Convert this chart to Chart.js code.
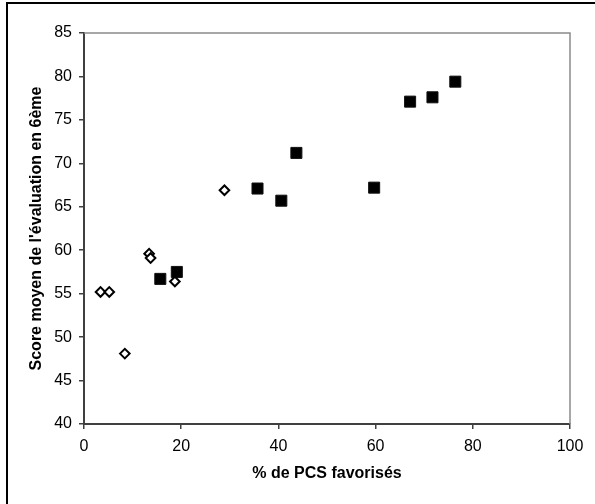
<!DOCTYPE html>
<html>
<head>
<meta charset="utf-8">
<script src="https://cdn.jsdelivr.net/npm/chart.js@4"></script>
<style>
  html, body { margin: 0; padding: 0; background: #fff; }
  #wrap { position: relative; width: 595px; height: 504px; overflow: hidden; }
  #frame {
    position: absolute; left: 6px; top: 2px; width: 700px; height: 600px;
    border-left: 2px solid #000; border-top: 2px solid #000;
  }
  canvas { position: absolute; left: 0; top: 0; }
</style>
</head>
<body>
<div id="wrap">
  <div id="frame"></div>
  <canvas id="chart" width="595" height="504"></canvas>
</div>
<script>
// open diamonds
const diamondX = [3.4, 5.2, 8.4, 13.4, 13.7, 18.7, 28.9];
const diamondY = [55.2, 55.2, 48.1, 59.6, 59.1, 56.4, 66.9];
// filled squares
const squareX = [15.7, 19.1, 35.7, 40.6, 43.7, 59.7, 67.1, 71.7, 76.4];
const squareY = [56.7, 57.5, 67.1, 65.7, 71.2, 67.2, 77.1, 77.6, 79.4];

const xTitle = "% de PCS favorisés";
const yTitle = "Score moyen de l'évaluation en 6ème";

const toPoints = (xs, ys) => xs.map((x, i) => ({ x: x, y: ys[i] }));

// light grey top and right edges of the plot area
const plotFrame = {
    id: "plotFrame",
    afterDraw(chart) {
        const { ctx, chartArea: a } = chart;
        ctx.save();
        ctx.strokeStyle = "#8a8a8a";
        ctx.lineWidth = 1.5;
        ctx.beginPath();
        ctx.moveTo(a.left, a.top);
        ctx.lineTo(a.right, a.top);
        ctx.lineTo(a.right, a.bottom);
        ctx.stroke();
        ctx.restore();
    },
};

const axisColor = "#404040";
const tickFont = { family: "'Liberation Sans', Arial, sans-serif", size: 16 };
const titleFont = { family: "'Liberation Sans', Arial, sans-serif", size: 16, weight: "bold" };

new Chart(document.getElementById("chart"), {
    type: "scatter",
    data: {
        datasets: [
            {
                data: toPoints(diamondX, diamondY),
                pointStyle: "rectRot",
                pointRadius: 4.8,
                pointBackgroundColor: "#fff",
                pointBorderColor: "#000",
                pointBorderWidth: 2,
            },
            {
                data: toPoints(squareX, squareY),
                pointStyle: "rect",
                pointRadius: 7.8,
                pointBackgroundColor: "#000",
                pointBorderColor: "#111",
                pointBorderWidth: 1,
            },
        ],
    },
    options: {
        responsive: false,
        animation: false,
        events: [],
        layout: { padding: { top: 33, right: 25, left: 0, bottom: 0 } },
        plugins: {
            legend: { display: false },
            tooltip: { enabled: false },
        },
        scales: {
            x: {
                type: "linear",
                min: 0,
                max: 100,
                afterFit: (s) => { s.height = 80; },
                ticks: { stepSize: 20, color: "#000", font: tickFont, padding: 8, maxRotation: 0 },
                grid: { drawOnChartArea: false, drawTicks: true, tickLength: 5, color: axisColor, lineWidth: 1.5 },
                border: { color: axisColor, width: 2 },
                title: { display: true, text: xTitle, color: "#000", font: titleFont, padding: { top: 0, bottom: 21 } },
            },
            y: {
                type: "linear",
                min: 40,
                max: 85,
                afterFit: (s) => { s.width = 84; },
                ticks: { stepSize: 5, color: "#000", font: tickFont, padding: 7 },
                grid: { drawOnChartArea: false, drawTicks: true, tickLength: 5, color: axisColor, lineWidth: 1.5 },
                border: { color: axisColor, width: 2 },
                title: { display: true, text: yTitle, color: "#000", font: titleFont, padding: { top: 27, bottom: 0 } },
            },
        },
    },
    plugins: [plotFrame],
});
</script>
</body>
</html>
